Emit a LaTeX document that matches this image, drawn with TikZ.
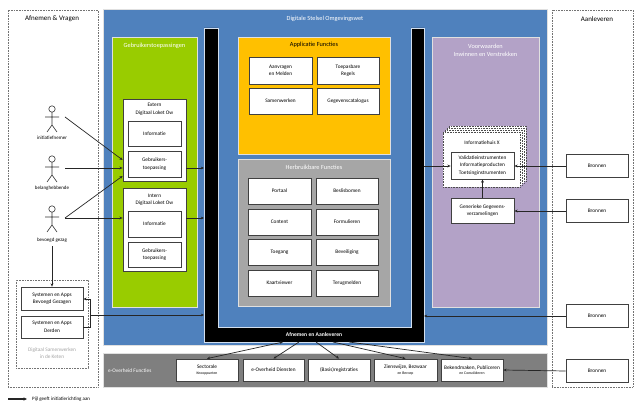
\documentclass[tikz,border=0pt]{standalone}
\usepackage{fontspec}
\setmainfont{Carlito}
\usetikzlibrary{arrows.meta}
\definecolor{dsblue}{RGB}{79,129,189}
\definecolor{dsgreen}{RGB}{153,204,0}
\definecolor{dsyellow}{RGB}{255,192,0}
\definecolor{dsgray}{RGB}{166,166,166}
\definecolor{dspurple}{RGB}{179,162,199}
\definecolor{dsdark}{RGB}{127,127,127}
\definecolor{dsline}{RGB}{64,64,64}
\definecolor{dsfaint}{RGB}{165,165,165}
\tikzset{
  panel/.style={draw=white!88!black, line width=0.6pt, inner sep=0pt},
  wbox/.style={draw=dsline, line width=0.8pt, fill=white, align=center,
    font=\fontsize{5.3}{7.5}\selectfont, inner sep=0pt},
  txt/.style={align=center, font=\fontsize{5.3}{7.5}\selectfont, inner sep=0pt},
  ttl/.style={align=center, font=\fontsize{6.3}{7.5}\selectfont, inner sep=0pt},
  bigttl/.style={align=center, font=\fontsize{7}{8}\selectfont, inner sep=0pt},
  arr/.style={draw=black!85, line width=0.7pt, -{Stealth[length=3.2pt,width=2.8pt]}},
  dblarr/.style={draw=black!85, line width=0.7pt, {Stealth[length=3.2pt,width=2.8pt]}-{Stealth[length=3.2pt,width=2.8pt]}},
  conn/.style={draw=black!85, line width=0.7pt},
  colbox/.style={draw=black!55, densely dotted, line width=0.6pt, inner sep=0pt},
  stackbox/.style={draw=black!70, densely dotted, line width=0.6pt, fill=white, inner sep=0pt},
  actor/.pic={
    \draw[line width=0.6pt, black!80] (0,0) circle[radius=3.2];
    \draw[line width=0.6pt, black!80] (0,3.2) -- (0,16) (-7,8) -- (7,8)
      (0,16) -- (-5,23) (0,16) -- (5,23);
  }
}
\begin{document}
\begin{tikzpicture}[x=1pt,y=-1pt]
\useasboundingbox (0,0) rectangle (636,403);
\fill[white] (0,0) rectangle (636,403);

% outer columns
\node[colbox, minimum width=90pt, minimum height=377pt] (leftcol) at (53,198.5) {};
\node[colbox, minimum width=81pt, minimum height=377pt] (rightcol) at (592.5,198.5) {};
\node[bigttl] (lefttitle) at (52,19) {Afnemen \& Vragen};
\node[bigttl] (righttitle) at (597,19) {Aanleveren};

% main blue panel
\node[panel, fill=dsblue, minimum width=444pt, minimum height=336pt] (blue) at (325,177) {};
\node[ttl, text=white] (bluetitle) at (325,19) {Digitale Stelsel Omgevingswet};

% black U
\path[fill=black, draw=white!75!dsblue, line width=0.6pt]
  (204,28) -- (218,28) -- (218,327) -- (411,327) -- (411,28) -- (424,28)
  -- (424,342) -- (204,342) -- cycle;
\node[txt, text=white, font=\bfseries\fontsize{5.6}{7}\selectfont] (afn) at (314,334.5) {Afnemen en Aanleveren};

% green panel
\node[panel, fill=dsgreen, minimum width=85pt, minimum height=270pt] (green) at (154.5,172) {};
\node[ttl, text=white] (greentitle) at (154.5,46) {Gebruikerstoepassingen};
\node[wbox, minimum width=63pt, minimum height=82pt] (ext) at (154.5,140) {};
\node[txt] (exttitle) at (154.5,109.5) {Extern\\Digitaal Loket Ow};
\node[wbox, minimum width=53pt, minimum height=25pt] (extinfo) at (154.5,133.5) {Informatie};
\node[wbox, minimum width=53pt, minimum height=26pt] (extgeb) at (154.5,164) {Gebruikers-\\toepassing};
\node[wbox, minimum width=63pt, minimum height=83pt] (int) at (154.5,229.5) {};
\node[txt] (inttitle) at (154.5,200) {Intern\\Digitaal Loket Ow};
\node[wbox, minimum width=53pt, minimum height=26pt] (intinfo) at (154.5,224) {Informatie};
\node[wbox, minimum width=53pt, minimum height=25pt] (intgeb) at (154.5,254.5) {Gebruikers-\\toepassing};

% yellow panel
\node[panel, fill=dsyellow, minimum width=152pt, minimum height=117pt] (yellow) at (314,95.5) {};
\node[ttl] (yellowtitle) at (314,45) {Applicatie Functies};
\node[wbox, minimum width=63pt, minimum height=27pt] (aanv) at (280.5,70.5) {Aanvragen\\en Melden};
\node[wbox, minimum width=62pt, minimum height=27pt] (toep) at (348,70.5) {Toepasbare\\Regels};
\node[wbox, minimum width=63pt, minimum height=26pt] (samen) at (280.5,101) {Samenwerken};
\node[wbox, minimum width=62pt, minimum height=26pt] (gegcat) at (348,101) {Gegevenscatalogus};

% gray panel
\node[panel, fill=dsgray, minimum width=152pt, minimum height=147pt] (grey) at (314,232.5) {};
\node[ttl, text=white] (greytitle) at (314,167) {Herbruikbare Functies};
\node[wbox, minimum width=63pt, minimum height=26pt] (portaal) at (279.5,191) {Portaal};
\node[wbox, minimum width=62pt, minimum height=26pt] (beslis) at (347,191) {Beslisbomen};
\node[wbox, minimum width=63pt, minimum height=26pt] (content) at (279.5,222) {Content};
\node[wbox, minimum width=62pt, minimum height=26pt] (formul) at (347,222) {Formulieren};
\node[wbox, minimum width=63pt, minimum height=26pt] (toegang) at (279.5,252) {Toegang};
\node[wbox, minimum width=62pt, minimum height=26pt] (bevei) at (347,252) {Beveiliging};
\node[wbox, minimum width=63pt, minimum height=26pt] (kaart) at (279.5,283) {Kaartviewer};
\node[wbox, minimum width=62pt, minimum height=26pt] (terug) at (347,283) {Terugmelden};

% purple panel
\node[panel, fill=dspurple, minimum width=107pt, minimum height=270pt] (purple) at (485.5,172) {};
\node[ttl, text=white] (purpletitle) at (485.5,50.5) {Voorwaarden\\Inwinnen en Verstrekken};
\foreach \k in {3,2,1} {
  \node[stackbox, minimum width=77pt, minimum height=55pt] (ihx\k) at (481.5+2*\k,159.5-2*\k) {};
}
\node[stackbox, minimum width=77pt, minimum height=55pt] (ihx) at (481.5,159.5) {};
\node[txt] (ihxtitle) at (482,143) {Informatiehuis X};
\node[wbox, minimum width=63pt, minimum height=27pt] (valid) at (482.5,165.5) {Validatieinstrumenten\\Informatieproducten\\Toetsinginstrumenten};
\node[wbox, minimum width=63pt, minimum height=25pt] (gener) at (482.5,210.5) {Generieke Gegevens-\\verzamelingen};

% bottom band
\node[panel, fill=dsdark, minimum width=444pt, minimum height=34pt] (eov) at (325,370) {};
\node[txt, text=white, anchor=west] (eovtitle) at (108,371) {e-Overheid Functies};
\node[wbox, minimum width=62pt, minimum height=22pt] (sect) at (207,370) {Sectorale\\[-2pt]{\fontsize{3.8}{5}\selectfont Knooppunten}};
\node[wbox, minimum width=61pt, minimum height=22pt] (eod) at (273.5,370) {e-Overheid Diensten};
\node[wbox, minimum width=62pt, minimum height=22pt] (basis) at (339,370) {(Basis)registraties};
\node[wbox, minimum width=63pt, minimum height=22pt] (ziens) at (405.5,370) {Zienswijze, Bezwaar\\[-2pt]{\fontsize{3.8}{5}\selectfont en Beroep}};
\node[wbox, minimum width=62pt, minimum height=22pt] (bekend) at (472,370) {Bekendmaken, Publiceren\\[-2pt]{\fontsize{3.8}{5}\selectfont en Consolideren}};

% Bronnen
\node[wbox, minimum width=62pt, minimum height=23pt] (bron1) at (597,166) {Bronnen};
\node[wbox, minimum width=62pt, minimum height=23pt] (bron2) at (597,211) {Bronnen};
\node[wbox, minimum width=62pt, minimum height=23pt] (bron3) at (597,316) {Bronnen};
\node[wbox, minimum width=62pt, minimum height=23pt] (bron4) at (597,371) {Bronnen};

% actors
\pic (act1) at (52,109) {actor};
\pic (act2) at (52,159) {actor};
\pic (act3) at (52,209) {actor};
\node[txt, font=\fontsize{5}{6}\selectfont] (lab1) at (52,138) {initiatiefnemer};
\node[txt, font=\fontsize{5}{6}\selectfont] (lab2) at (52,188) {belanghebbende};
\node[txt, font=\fontsize{5}{6}\selectfont] (lab3) at (52,240) {bevoegd gezag};
\coordinate (a1) at (65,117);
\coordinate (a2) at (65,168);
\coordinate (a3) at (65,218);
\coordinate (a3d) at (52,246);

% left systems
\node[colbox, minimum width=72pt, minimum height=88pt] (keten) at (52,324) {};
\node[wbox, minimum width=62pt, minimum height=23pt] (sysbg) at (52,298.5) {Systemen en Apps\\Bevoegd Gezagen};
\node[wbox, minimum width=62pt, minimum height=22pt] (sysder) at (52,327) {Systemen en Apps\\Derden};
\node[txt, text=dsfaint] (ketentitle) at (52,353) {Digitaal Samenwerken\\in de Keten};
\coordinate (brk1) at (90,327);
\coordinate (brk2) at (90,299);
\coordinate (brk3) at (90,315);

% coordinates on the black U
\coordinate (bl1) at (204,168);
\coordinate (bl2) at (204,218);
\coordinate (bl3) at (204,315);
\coordinate (br1) at (424,166);
\coordinate (br3) at (424,316);
\coordinate (u1) at (283,342);
\coordinate (u2) at (299,342);
\coordinate (u3) at (316,342);
\coordinate (u4) at (333,342);
\coordinate (u5) at (349,342);

% connectors
\draw[arr] (a1) -- (ext.west |- 0,160);
\draw[arr] (a2) -- (ext.west |- 0,168);
\draw[arr] (a3) -- (ext.west |- 0,176);
\draw[arr] (a3) -- (int.west |- 0,218);
\draw[arr] (a3d) -- (sysbg.north);
\draw[arr] (ext.east |- bl1) -- (bl1);
\draw[arr] (int.east |- bl2) -- (bl2);
\draw[conn] (sysder.east |- brk1) -- (brk1) -- (brk2);
\draw[arr] (brk2) -- (sysbg.east |- brk2);
\draw[arr] (brk3) -- (bl3);
\draw[arr] (br1) -- (valid.west |- br1);
\draw[arr] (bron1.west) -- (valid.east |- bron1.west);
\draw[arr] (gener.north) -- (valid.south);
\draw[arr] (bron2.west) -- (gener.east |- bron2.west);
\draw[arr] (bron3.west) -- (br3);
\draw[arr] (bron4.west) -- (bekend.east);
\draw[dblarr] (sect.north) -- (u1);
\draw[arr] (u2) -- (eod.north);
\draw[arr] (u3) -- (basis.north);
\draw[arr] (u4) -- (ziens.north);
\draw[arr] (u5) -- (bekend.north);

% legend
\coordinate (lg1) at (8,399);
\coordinate (lg2) at (27,399);
\node[txt, anchor=west, font=\fontsize{5}{6}\selectfont] (legend) at (32,399) {Pijl geeft initiatierichting aan};
\draw[draw=black!85, line width=1.1pt, -{Stealth[length=3.5pt,width=3.2pt]}] (lg1) -- (lg2);
\end{tikzpicture}
\end{document}
